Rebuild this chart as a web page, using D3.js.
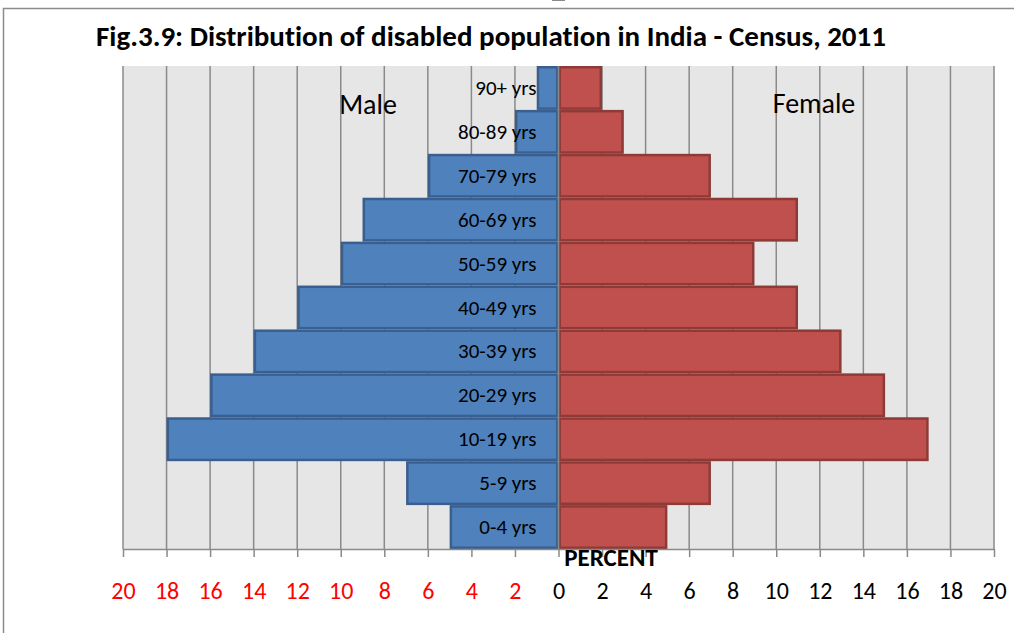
<!DOCTYPE html>
<html lang="en">
<head>
<meta charset="UTF-8">
<title>Disabled population pyramid</title>
<script src="https://d3js.org/d3.v7.min.js"></script>
<style>
  body { margin: 0; background: #fff; }
  svg { font-family: Carlito, "Liberation Sans Narrow", "Open Sans", sans-serif; font-variant-ligatures: none; }
</style>
</head>
<body>
<script>
const ageGroups = ["0-4 yrs", "5-9 yrs", "10-19 yrs", "20-29 yrs", "30-39 yrs", "40-49 yrs",
                   "50-59 yrs", "60-69 yrs", "70-79 yrs", "80-89 yrs", "90+ yrs"];
const maleValues = [5, 7, 18, 16, 14, 12, 10, 9, 6, 2, 1];
const femaleValues = [5, 7, 17, 15, 13, 11, 9, 11, 7, 3, 2];
const tickValues = [-20, -18, -16, -14, -12, -10, -8, -6, -4, -2, 0, 2, 4, 6, 8, 10, 12, 14, 16, 18, 20];

const width = 1014, height = 633;
const plotLeft = 123, plotRight = 994, plotTop = 66, plotBottom = 549;

const svg = d3.select("body").append("svg")
    .attr("width", width)
    .attr("height", height);

// outer frame
svg.append("rect")
    .attr("x", 3.5).attr("y", 8.5)
    .attr("width", 1020).attr("height", 640)
    .attr("fill", "none").attr("stroke", "#8c8c8c").attr("stroke-width", 1.5);

const x = d3.scaleLinear().domain([-20, 20]).range([plotLeft, plotRight]);
const y = d3.scaleBand().domain(ageGroups.slice().reverse()).range([plotTop, plotBottom]).padding(0);

svg.append("rect")
    .attr("x", plotLeft).attr("y", plotTop)
    .attr("width", plotRight - plotLeft).attr("height", plotBottom - plotTop)
    .attr("fill", "#e6e6e6");

// vertical gridlines
svg.append("g").selectAll("line")
    .data(tickValues)
    .join("line")
    .attr("x1", d => x(d)).attr("x2", d => x(d))
    .attr("y1", plotTop).attr("y2", plotBottom)
    .attr("stroke", "#8a8a8a").attr("stroke-width", 1.5);

const rows = ageGroups.map((a, i) => ({age: a, male: maleValues[i], female: femaleValues[i]}));

svg.append("g").selectAll("rect")
    .data(rows)
    .join("rect")
    .attr("x", d => x(-d.male) + 1.25)
    .attr("y", d => y(d.age) + 1.25)
    .attr("width", d => x(0) - x(-d.male) - 2.5)
    .attr("height", y.bandwidth() - 2.5)
    .attr("fill", "#4f81bd").attr("stroke", "#3a5f8e").attr("stroke-width", 2.5);

svg.append("g").selectAll("rect")
    .data(rows)
    .join("rect")
    .attr("x", x(0) + 1.25)
    .attr("y", d => y(d.age) + 1.25)
    .attr("width", d => x(d.female) - x(0) - 2.5)
    .attr("height", y.bandwidth() - 2.5)
    .attr("fill", "#c0504d").attr("stroke", "#8e3a37").attr("stroke-width", 2.5);

// center axis with small ticks between categories
svg.append("line")
    .attr("x1", x(0)).attr("x2", x(0))
    .attr("y1", plotTop).attr("y2", plotBottom)
    .attr("stroke", "#8a8a8a").attr("stroke-width", 1.5);
svg.append("g").selectAll("line")
    .data(ageGroups)
    .join("line")
    .attr("x1", x(0) - 6).attr("x2", x(0) + 6)
    .attr("y1", d => y(d.age)).attr("y2", d => y(d.age))
    .attr("stroke", "#8a8a8a").attr("stroke-width", 1.5);

// category labels
svg.append("g").selectAll("text")
    .data(rows)
    .join("text")
    .attr("x", x(0) - 22)
    .attr("y", d => y(d.age) + y.bandwidth() / 2 + 7)
    .attr("text-anchor", "end")
    .attr("font-size", 21)
    .attr("fill", "#000")
    .text(d => d.age);

// bottom axis
const axis = svg.append("g")
    .attr("transform", `translate(0,${plotBottom})`)
    .call(d3.axisBottom(x).tickValues(tickValues).tickSize(8).tickSizeOuter(0).tickFormat(d => Math.abs(d)));
axis.select(".domain").attr("stroke", "#8a8a8a").attr("stroke-width", 1.5);
axis.selectAll(".tick line").attr("stroke", "#8a8a8a").attr("stroke-width", 1.5);
axis.selectAll(".tick text")
    .attr("y", 50)
    .attr("dy", null)
    .attr("font-size", 24)
    .attr("font-family", "Carlito, 'Liberation Sans Narrow', 'Open Sans', sans-serif")
    .attr("fill", d => d < 0 ? "#ff0000" : "#000");

svg.append("text")
    .attr("x", 611).attr("y", 566)
    .attr("text-anchor", "middle")
    .attr("font-size", 25).attr("font-weight", "bold")
    .text("PERCENT");

svg.append("text")
    .attr("x", 368).attr("y", 114)
    .attr("text-anchor", "middle")
    .attr("font-size", 28)
    .text("Male");
svg.append("text")
    .attr("x", 814).attr("y", 113)
    .attr("text-anchor", "middle")
    .attr("font-size", 28)
    .text("Female");

svg.append("text")
    .attr("x", 491).attr("y", 46)
    .attr("text-anchor", "middle")
    .attr("font-size", 29).attr("font-weight", "bold")
    .text("Fig.3.9: Distribution of disabled population in India - Census, 2011");
</script>
</body>
</html>
